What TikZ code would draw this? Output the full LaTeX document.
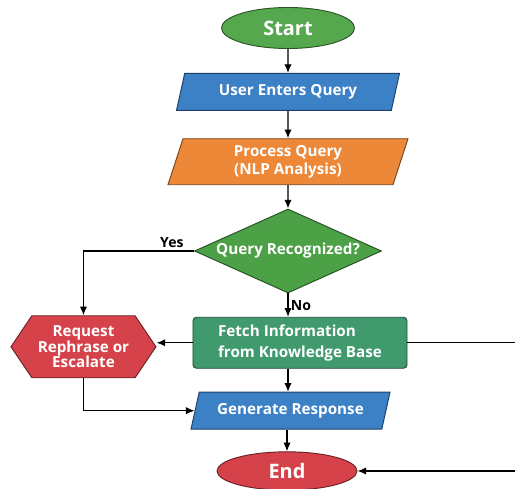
\documentclass[tikz,border=0pt]{standalone}
\usepackage{fontspec}
\setmainfont{Open Sans}
\usetikzlibrary{shapes.geometric, shapes.symbols, arrows.meta}
\usetikzlibrary{calc, positioning}

\definecolor{startgreen}{RGB}{86,168,78}
\definecolor{userblue}{RGB}{60,128,198}
\definecolor{procorange}{RGB}{236,136,56}
\definecolor{querygreen}{RGB}{76,160,70}
\definecolor{fetchgreen}{RGB}{64,154,110}
\definecolor{stopred}{RGB}{214,66,74}

\begin{document}
\begin{tikzpicture}[line width=1.1pt, > = {Latex[length=2.6mm, width=2.2mm]}]
    \tikzset{
      my base/.style={
        draw=#1!50!black, fill=#1, text=white, line width=0.8pt, align=center,
        font=\bfseries\fontsize{13}{16}\selectfont
      },
      my terminal/.style={
        my base=#1, ellipse, minimum width=3.99cm, minimum height=1.23cm,
        font=\bfseries\fontsize{17}{20}\selectfont
      },
      my io/.style={
        my base=#1, trapezium, trapezium left angle=70, trapezium right angle=110,
        trapezium stretches body, minimum height=1.11cm
      },
      my decision/.style={
        my base=#1, diamond, aspect=2.2, inner sep=0pt,
        minimum width=5.61cm, minimum height=2.52cm
      },
      my process/.style={
        my base=#1, rectangle, rounded corners=3pt, align=left,
        minimum width=6.42cm, minimum height=1.53cm,
        font=\bfseries\fontsize{13}{18}\selectfont
      },
      my alt/.style={
        my base=#1, signal, signal to=west and east, signal pointer angle=112,
        minimum width=4.35cm, minimum height=1.86cm,
        font=\bfseries\fontsize{13}{13.5}\selectfont
      },
      my label/.style={font=\bfseries\fontsize{12}{14}\selectfont, inner sep=2pt},
    }
    \useasboundingbox (-86.4mm,-138mm) rectangle (68.1mm,8.4mm);
    \clip (-86.4mm,-138mm) rectangle (68.1mm,8.4mm);

    % Main column
    \node (start) [my terminal=startgreen] {Start};
    \node (user) [my io=userblue, minimum width=6.69cm, below=7.2mm of start] {User Enters Query};
    \node (proc) [my io=procorange, minimum width=7.2cm, minimum height=1.38cm, below=8.2mm of user]
    {Process Query\\(NLP Analysis)};
    \node (query) [my decision=querygreen, below=7mm of proc] {Query Recognized?};
    \node (fetch) [my process=fetchgreen, below=7mm of query, xshift=3.6mm]
    {Fetch Information\\from Knowledge Base};
    \node (gen) [my io=userblue, minimum width=5.97cm, below=6.9mm of fetch, xshift=-2.85mm]
    {Generate Response};
    \node (stop) [my terminal=stopred, minimum width=4.2cm, minimum height=1.15cm,
      below=6.5mm of gen, xshift=-1.05mm] {End};

    % Side branch
    \node (request) [my alt=stopred, left=10.8mm of fetch, yshift=-1.2mm]
    {Request\\Rephrase or\\Escalate};
    \coordinate (rgt) at ($(fetch.east)+(40mm,0)$);

    % Arrows
    \draw[->] (start) -- (user);
    \draw[->] (user) -- (proc);
    \draw[->] (proc) -- (query);
    \draw[->] (query.south) -- (query.south |- fetch.north) node[midway, right, my label] {No};
    \draw[->] (query.west) -| (request.north) node[pos=0.1, above, my label] {Yes};
    \draw[->] (fetch.west) -- (fetch.west -| request.east);
    \draw[->] (request.south) |- (gen.west);
    \draw[->] (query.south |- fetch.south) -- (query.south |- gen.north);
    \draw[->] (stop |- gen.south) -- (stop.north);
    \draw[->] (fetch.east) -- (rgt) |- (stop.east);

\end{tikzpicture}
\end{document}
